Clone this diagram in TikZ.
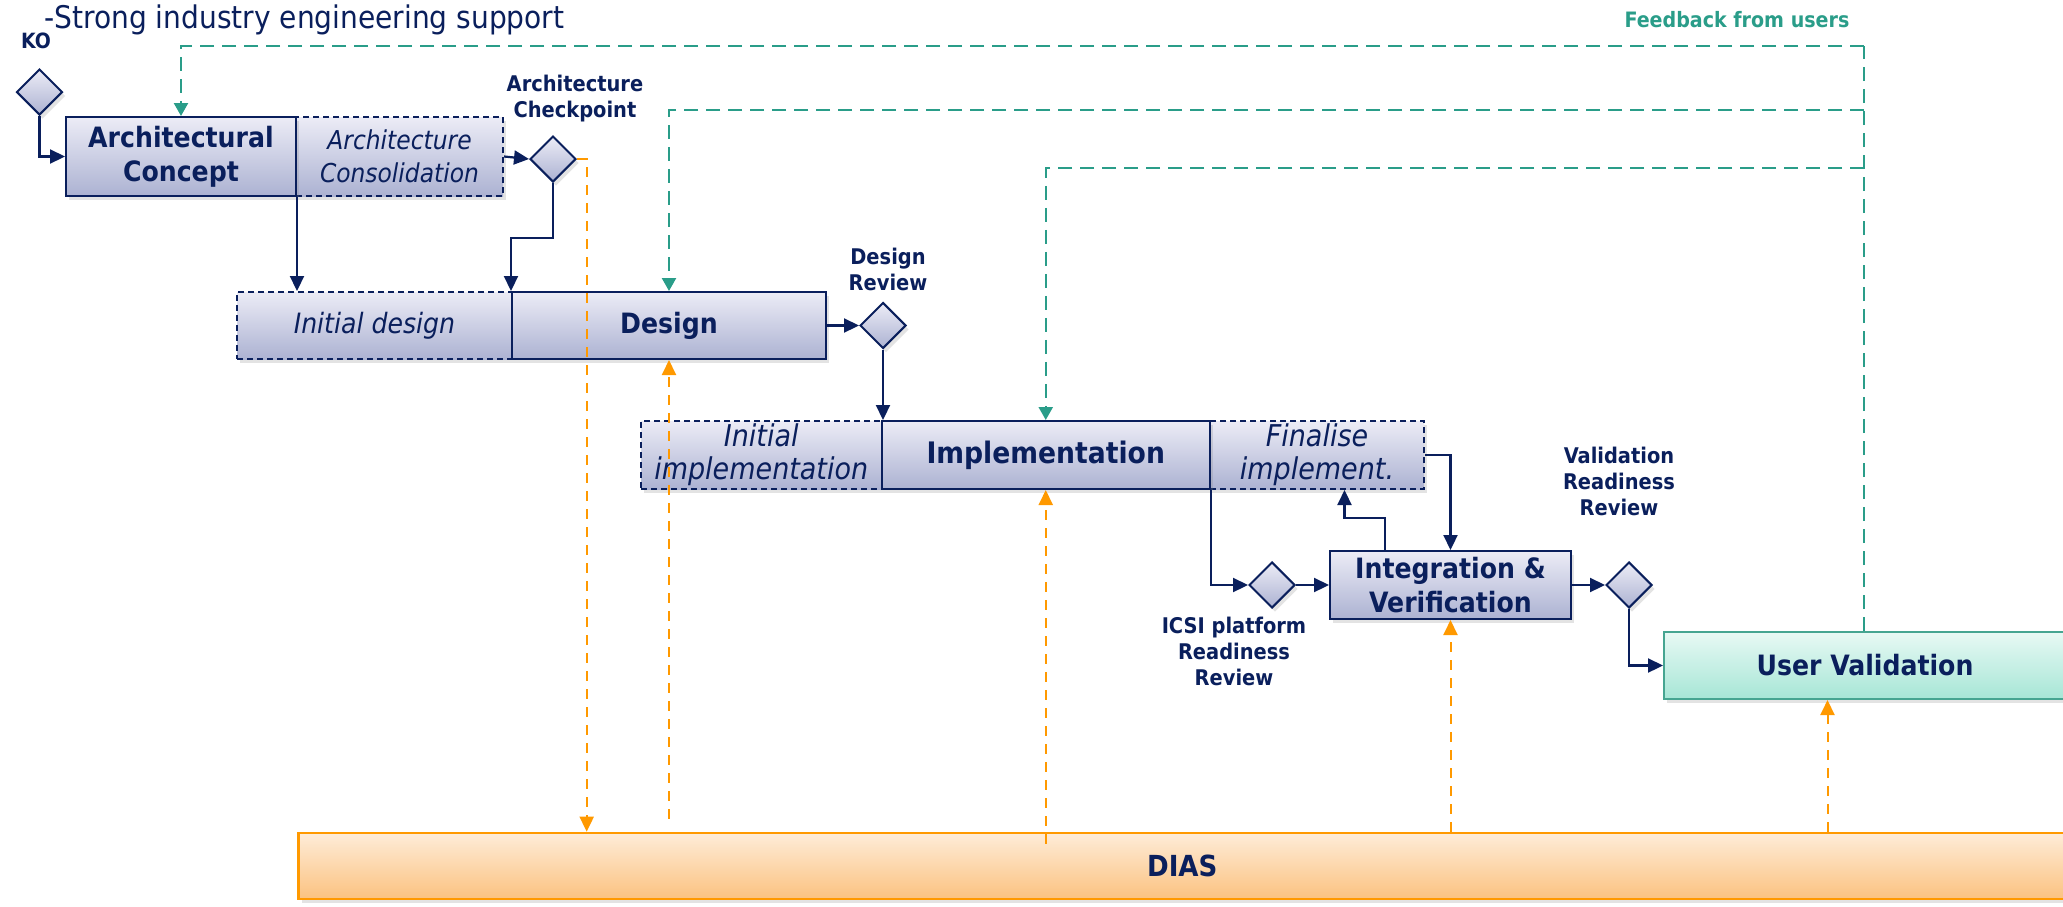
\documentclass[tikz,border=0pt]{standalone}
\usepackage{fontspec}
\setmainfont{DejaVu Sans Condensed}
\usetikzlibrary{shapes.geometric,arrows.meta,calc,shadows}
\definecolor{navy}{RGB}{10,31,92}
\definecolor{boxtop}{RGB}{236,236,246}
\definecolor{boxbot}{RGB}{172,178,210}
\definecolor{teal}{RGB}{42,157,137}
\definecolor{uvtop}{RGB}{232,249,244}
\definecolor{uvbot}{RGB}{166,230,214}
\definecolor{uvline}{RGB}{70,165,145}
\definecolor{orng}{RGB}{255,153,0}
\definecolor{diastop}{RGB}{254,236,216}
\definecolor{diasbot}{RGB}{251,194,128}
\newcommand\BoxFont{\fontsize{14}{17}\selectfont\bfseries}
\newcommand\ItFont{\fontsize{13}{16.5}\selectfont\itshape}
\newcommand\LblFont{\fontsize{10.8}{13}\selectfont\bfseries}
\begin{document}
\begin{tikzpicture}[x=0.5pt,y=-0.5pt,
  shad/.style={drop shadow={opacity=0.22,shadow xshift=1.5pt,shadow yshift=-2pt}},
  phase/.style={rectangle,draw=navy,line width=1pt,top color=boxtop,bottom color=boxbot,
    text=navy,align=center,inner sep=0pt,font=\BoxFont,shad},
  sub/.style={phase,dash pattern=on 3pt off 2pt,font=\ItFont},
  gate/.style={diamond,draw=navy,line width=1pt,top color=boxtop,bottom color=boxbot,
    minimum width=23pt,minimum height=23pt,inner sep=0pt,aspect=1,shad},
  lbl/.style={text=navy,align=center,font=\LblFont,inner sep=0pt},
  arr/.style={draw=navy,line width=1.1pt,-{Triangle[length=7.5pt,width=7pt]}},
  grarr/.style={draw=teal,line width=1.2pt,dash pattern=on 7pt off 4pt,-{Triangle[length=6.5pt,width=7pt]}},
  grline/.style={draw=teal,line width=1.2pt,dash pattern=on 7pt off 4pt},
  orarr/.style={draw=orng,line width=1pt,dash pattern=on 5pt off 4pt,-{Triangle[length=7.5pt,width=7pt]}}
]
\clip (0,0) rectangle (2063,906);

% text labels
\node[anchor=base west,text=navy,inner sep=0pt,font=\fontsize{15.6}{18}\selectfont] (title) at (44,28) {-Strong industry engineering support};
\node[lbl,font=\fontsize{10.5}{12}\selectfont\bfseries] (kolbl) at (36,41) {KO};
\node[lbl,text=teal,font=\fontsize{10.6}{13}\selectfont\bfseries] (fb) at (1737,20) {Feedback from users};
\node[lbl] (cplbl) at (575,98.5) {Architecture\\Checkpoint};
\node[lbl] (drlbl) at (888,269.5) {Design\\Review};
\node[lbl] (vrrlbl) at (1619,481.5) {Validation\\Readiness\\Review};
\node[lbl] (icsilbl) at (1234,651.5) {ICSI platform\\Readiness\\Review};

% dashed sub-phases
\node[sub,minimum width=103.5pt,minimum height=39.5pt] (consol) at (399.5,156.5) {Architecture\\Consolidation};
\node[sub,minimum width=137.5pt,minimum height=33.5pt,font=\fontsize{14}{16.5}\selectfont\itshape] (initdes) at (374.5,325.5) {Initial design};
\node[sub,minimum width=120.25pt,minimum height=34pt,font=\fontsize{15}{16.5}\selectfont\itshape] (initimpl) at (761.25,455) {Initial\\implementation};
\node[sub,minimum width=107pt,minimum height=34pt,font=\fontsize{15}{16.5}\selectfont\itshape] (final) at (1317,455) {Finalise\\implement.};

% main phases
\node[phase,minimum width=115pt,minimum height=39.5pt] (concept) at (181,156.5) {Architectural\\Concept};
\node[phase,minimum width=157pt,minimum height=33.5pt] (design) at (669,325.5) {Design};
\node[phase,minimum width=164.25pt,minimum height=34pt,font=\fontsize{14.8}{17}\selectfont\bfseries] (impl) at (1045.75,455) {Implementation};
\node[phase,minimum width=120.5pt,minimum height=34pt] (integ) at (1450.5,585) {Integration \&\\Verification};
\node[phase,draw=uvline,top color=uvtop,bottom color=uvbot,minimum width=201pt,minimum height=33.5pt] (uv) at (1865,665.5) {User Validation};
\node[phase,draw=orng,line width=1.3pt,top color=diastop,bottom color=diasbot,minimum width=883.75pt,minimum height=33pt,font=\fontsize{14.5}{16}\selectfont\bfseries] (dias) at (1182.25,866) {DIAS};

% gates
\node[gate] (ko) at (39.5,92) {};
\node[gate] (cp) at (553,159) {};
\node[gate] (dr) at (883,325.5) {};
\node[gate] (icsi) at (1272,585) {};
\node[gate] (vrr) at (1629,585) {};

% navy flow
\draw[arr] (ko.south) |- (concept.west);
\draw[arr] (consol.east) -- (cp.west);
\draw[arr] (concept.south east) -- (concept.south east |- initdes.north);
\draw[arr] (cp.south) -- ++(0,55) -| (design.north west);
\draw[arr] (design.east) -- (dr.west);
\draw[arr] (dr.south) -- (dr.south |- impl.north);
\draw[arr] (impl.south east) |- (icsi.west);
\draw[arr] (icsi.east) -- (integ.west);
\draw[arr] (final.east) -| (integ.north);
\draw[arr] ($(integ.north west)+(56,0)$) -- ++(0,-32) -| ($(final.south west)+(135.5,0)$);
\draw[arr] (integ.east) -- (vrr.west);
\draw[arr] (vrr.south) |- (uv.west);

% feedback (teal)
\coordinate (fbtop) at (1864,46);
\coordinate (fbmid) at (1864,110);
\coordinate (fblow) at (1864,168);
\draw[grline] (uv.north -| fbtop) -- (fbtop);
\draw[grarr] (fbtop) -| ($(concept.north west)+(116,0)$);
\draw[grarr] (fbmid) -| (design.north);
\draw[grarr] (fblow) -| (impl.north);

% DIAS (orange)
\coordinate (uvo) at ($(uv.south west)+(164.5,0)$);
\draw[orarr] (cp.east) -| ($(dias.north west)+(289.5,0)$);
\draw[orarr] ($(design.south |- dias.north)+(0,-13)$) -- (design.south);
\draw[orarr] ($(impl.south |- dias.north)+(0,12)$) -- (impl.south);
\draw[orarr] (integ.south |- dias.north) -- (integ.south);
\draw[orarr] (uvo |- dias.north) -- (uvo);
\end{tikzpicture}
\end{document}
